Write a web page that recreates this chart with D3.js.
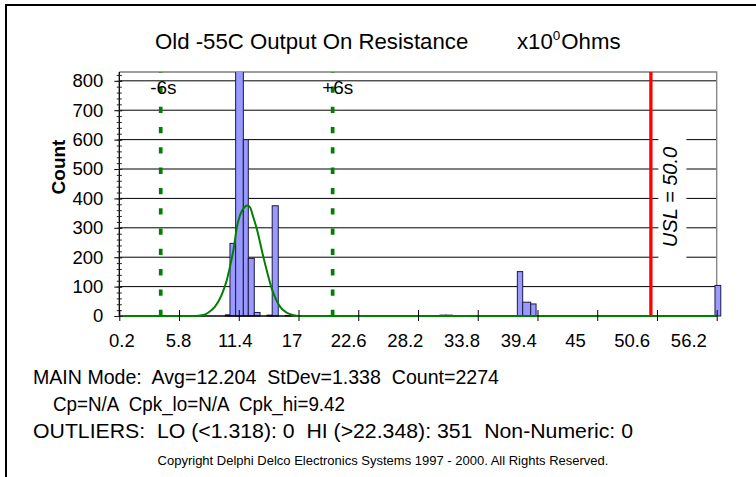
<!DOCTYPE html>
<html>
<head>
<meta charset="utf-8">
<script src="https://cdnjs.cloudflare.com/ajax/libs/d3/7.8.5/d3.min.js"></script>
<style>
    body { margin: 0; background: #fff; }
    text { font-family: "Liberation Sans", Arial, sans-serif; fill: #000; }
</style>
</head>
<body>
<div id="chart"></div>
<script>
// histogram bins, in axis units
var binLo    = [10.48, 10.93, 11.49, 12.25, 12.74, 13.33, 14.6, 15.1, 16.4, 31.67, 32.28, 39.31, 39.84, 40.63, 58.83];
var binHi    = [10.93, 11.49, 12.25, 12.74, 13.33, 13.9, 15.1, 15.7, 16.9, 32.28, 32.89, 39.84, 40.63, 41.16, 59.4];
var binCount = [4, 247, 840, 600, 196, 12, 3, 375, 2, 3, 3, 151, 47, 41, 104];

// fitted normal curve, read point by point
var curveX = [0, 7.6, 8.4, 8.8, 9.45, 10.1, 10.6, 10.93, 11.33, 11.6, 11.9, 12.41, 12.65, 12.91, 13.2, 13.57, 14.22, 14.6, 15.05, 15.5, 15.87, 16.5, 17.35, 18, 59];
var curveY = [0, 0, 4, 12, 32, 71, 120, 168, 236, 300, 340, 372, 376, 370, 340, 298, 202, 150, 94, 55, 32, 12, 2, 0, 0];

var xLabels = [0.2, 5.8, 11.4, 17, 22.6, 28.2, 33.8, 39.4, 45, 50.6, 56.2];
var xTickMarks = [0, 5.9, 11.8, 17.7, 23.6, 29.5, 35.4, 41.3, 47.2, 53.1, 59];
var yTicks = [0, 100, 200, 300, 400, 500, 600, 700, 800];

var sigmaNames = ["-6s", "+6s"];
var sigmaPos = [4.09, 21.07];
var uslPos = 52.5;
var uslText = "USL = 50.0";

var statLines = [
    "MAIN Mode:  Avg=12.204  StDev=1.338  Count=2274",
    "Cp=N/A  Cpk_lo=N/A  Cpk_hi=9.42",
    "OUTLIERS:  LO (<1.318): 0  HI (>22.348): 351  Non-Numeric: 0"
];
var statWidths = [466, 292, 600];
var copyright = "Copyright Delphi Delco Electronics Systems 1997 - 2000. All Rights Reserved.";

var W = 756, H = 477;
var plot = {left: 119.3, right: 716.7, top: 72, bottom: 316};

var svg = d3.select("#chart").append("svg").attr("width", W).attr("height", H);

// outer frame
svg.append("rect")
    .attr("x", 6).attr("y", 5)
    .attr("width", W + 20).attr("height", H + 20)
    .attr("fill", "none").attr("stroke", "#000").attr("stroke-width", 2);

var x = d3.scaleLinear().domain([0, 59]).range([plot.left, plot.right]);
var y = d3.scaleLinear().domain([0, 830]).range([plot.bottom, plot.top]);

svg.append("defs").append("clipPath")
    .attr("id", "clip")
    .append("rect")
    .attr("x", plot.left).attr("y", plot.top)
    .attr("width", plot.right - plot.left + 10)
    .attr("height", plot.bottom - plot.top + 5);

// gridlines
svg.append("g")
    .selectAll("line")
    .data(yTicks.slice(1))
    .enter().append("line")
    .attr("x1", plot.left).attr("x2", plot.right)
    .attr("y1", function(d) { return y(d); })
    .attr("y2", function(d) { return y(d); })
    .attr("stroke", "#000").attr("stroke-width", 1);

// plot frame, top and right
svg.append("path")
    .attr("d", "M" + plot.left + "," + plot.top + "H" + plot.right + "V" + plot.bottom)
    .attr("fill", "none").attr("stroke", "#808080").attr("stroke-width", 1.3);

// bars
var bins = binLo.map(function(d, i) { return {lo: d, hi: binHi[i], n: binCount[i]}; });
svg.append("g")
    .attr("clip-path", "url(#clip)")
    .selectAll("rect")
    .data(bins)
    .enter().append("rect")
    .attr("x", function(d) { return x(d.lo); })
    .attr("width", function(d) { return x(d.hi) - x(d.lo); })
    .attr("y", function(d) { return y(d.n); })
    .attr("height", function(d) { return y(0) - y(d.n); })
    .attr("fill", "#9999ff")
    .attr("stroke", "#1a1a40").attr("stroke-width", 1);

// axis lines
svg.append("line")
    .attr("x1", plot.left).attr("x2", plot.left)
    .attr("y1", plot.top).attr("y2", plot.bottom)
    .attr("stroke", "#000").attr("stroke-width", 1.3);
svg.append("line")
    .attr("x1", plot.left).attr("x2", plot.right)
    .attr("y1", plot.bottom).attr("y2", plot.bottom)
    .attr("stroke", "#000").attr("stroke-width", 1.3);

// normal curve
var curvePts = curveX.map(function(d, i) { return [d, curveY[i]]; });
svg.append("path")
    .datum(curvePts)
    .attr("fill", "none")
    .attr("stroke", "#008000").attr("stroke-width", 2)
    .attr("d", d3.line()
        .curve(d3.curveMonotoneX)
        .x(function(d) { return x(d[0]); })
        .y(function(d) { return y(d[1]); }));

// y axis: labels, major and minor ticks
var yAxisLabels = svg.append("g")
    .attr("transform", "translate(" + plot.left + ",0)")
    .call(d3.axisLeft(y).tickValues(yTicks).tickSize(0).tickPadding(16));
yAxisLabels.select(".domain").remove();
yAxisLabels.selectAll("text")
    .attr("font-size", 18.5).attr("font-family", "Liberation Sans, Arial, sans-serif");

var yMajor = svg.append("g")
    .attr("transform", "translate(" + (plot.left + 3) + ",0)")
    .call(d3.axisLeft(y).tickValues(yTicks).tickSize(8).tickFormat(""));
yMajor.select(".domain").remove();

var yMinor = svg.append("g")
    .attr("transform", "translate(" + (plot.left + 2.5) + ",0)")
    .call(d3.axisLeft(y).tickValues(d3.range(0, 821, 20)).tickSize(5).tickFormat(""));
yMinor.select(".domain").remove();
yMinor.selectAll("line").attr("stroke", "#222");

// x axis: tick marks and labels sit on different grids
var xMarks = svg.append("g")
    .attr("transform", "translate(0," + (plot.bottom - 6) + ")")
    .call(d3.axisBottom(x).tickValues(xTickMarks).tickSize(11).tickFormat(""));
xMarks.select(".domain").remove();

var xAxisLabels = svg.append("g")
    .attr("transform", "translate(0," + plot.bottom + ")")
    .call(d3.axisBottom(x).tickValues(xLabels).tickSize(0).tickPadding(18).tickFormat(function(d) { return d; }));
xAxisLabels.select(".domain").remove();
xAxisLabels.selectAll("text")
    .attr("font-size", 18.5).attr("font-family", "Liberation Sans, Arial, sans-serif");

// -6s / +6s lines
svg.append("g")
    .selectAll("line")
    .data(sigmaPos)
    .enter().append("line")
    .attr("x1", function(d) { return x(d); })
    .attr("x2", function(d) { return x(d); })
    .attr("y1", plot.bottom).attr("y2", plot.top)
    .attr("stroke", "#008000").attr("stroke-width", 3.7)
    .attr("stroke-dasharray", "6.3,14");

svg.append("g")
    .selectAll("text")
    .data(sigmaPos)
    .enter().append("text")
    .attr("x", function(d) { return x(d) - 10.5; })
    .attr("y", 93.5)
    .attr("font-size", 19)
    .text(function(d, i) { return sigmaNames[i]; });

// USL
svg.append("line")
    .attr("x1", x(uslPos)).attr("x2", x(uslPos))
    .attr("y1", plot.top).attr("y2", plot.bottom)
    .attr("stroke", "#ff0000").attr("stroke-width", 3.3);

var uslG = svg.append("g")
    .attr("transform", "translate(" + (x(uslPos) + 26.5) + ",197) rotate(-90)");
var uslLabel = uslG.append("text")
    .attr("text-anchor", "middle")
    .attr("font-size", 20)
    .attr("font-style", "italic")
    .text(uslText);
var bb = uslLabel.node().getBBox();
uslG.insert("rect", "text")
    .attr("x", bb.x - 14).attr("y", bb.y - 1)
    .attr("width", bb.width + 28).attr("height", bb.height + 6)
    .attr("fill", "#fff");

// axis title
svg.append("text")
    .attr("transform", "translate(65,167) rotate(-90)")
    .attr("text-anchor", "middle")
    .attr("font-size", 19)
    .attr("font-weight", "bold")
    .text("Count");

// chart title
svg.append("text")
    .attr("x", 155).attr("y", 48.7)
    .attr("font-size", 22.2)
    .text("Old -55C Output On Resistance");
var unitText = svg.append("text")
    .attr("x", 517).attr("y", 48.7)
    .attr("font-size", 22.2);
unitText.append("tspan").text("x10");
unitText.append("tspan").attr("dy", -9).attr("font-size", 13.5).text("0");
unitText.append("tspan").attr("dy", 9).attr("dx", 1).text("Ohms");

// statistics block
svg.append("g")
    .selectAll("text")
    .data(statLines)
    .enter().append("text")
    .attr("x", function(d, i) { return i == 1 ? 53 : 33; })
    .attr("y", function(d, i) { return 384 + i * 27; })
    .attr("font-size", 20.5)
    .attr("textLength", function(d, i) { return statWidths[i]; })
    .attr("lengthAdjust", "spacingAndGlyphs")
    .style("white-space", "pre")
    .text(function(d) { return d; });

svg.append("text")
    .attr("x", 383).attr("y", 465)
    .attr("text-anchor", "middle")
    .attr("font-size", 13)
    .text(copyright);
</script>
</body>
</html>
